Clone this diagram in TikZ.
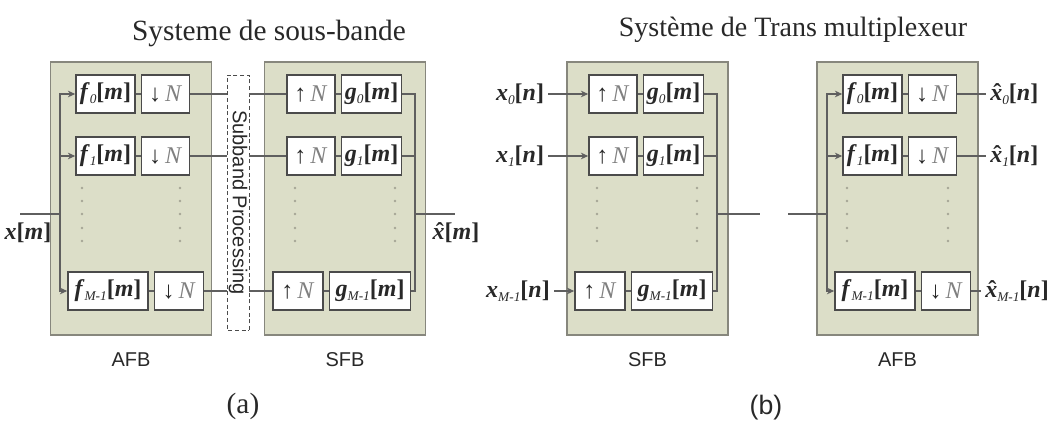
\documentclass[tikz,border=0pt]{standalone}
\usepackage{fontspec}
\setmainfont{Liberation Serif}
\setsansfont{Liberation Sans}
\usetikzlibrary{arrows.meta,positioning}

\definecolor{bankfill}{RGB}{220,222,200}
\definecolor{bankline}{RGB}{135,135,125}
\definecolor{boxline}{RGB}{75,75,75}
\definecolor{wiregray}{RGB}{95,95,95}
\definecolor{dotgray}{RGB}{165,165,150}
\definecolor{textgray}{RGB}{40,40,40}

\newcommand{\subs}[1]{\raisebox{-0.35ex}{\fontsize{10}{10}\selectfont\textit{#1}}}
\newcommand{\sig}[3]{\textbf{\textit{#1}}\subs{#2}\textbf{[\textit{#3}]}}
\newcommand{\hatx}{\ooalign{\textbf{\textit{x}}\cr\hidewidth\kern0.1em\textbf{ˆ}\hidewidth\cr}}
\newcommand{\hsig}[2]{\hatx\subs{#1}\textbf{[\textit{#2}]}}
\newcommand{\downN}{\textbf{↓}\,\textcolor{gray}{\textit{N}}}
\newcommand{\upN}{\textbf{↑}\,\textcolor{gray}{\textit{N}}}

\begin{document}
\begin{tikzpicture}[x=0.75pt,y=-0.75pt,>={Stealth[length=5.5pt,width=5pt]},node distance=3.75pt,
  text=textgray,
  bank node/.style={draw=bankline,fill=bankfill,line width=1pt,minimum width=120.75pt,minimum height=204.75pt,inner sep=0pt},
  block node/.style={draw=boxline,fill=white,line width=1.2pt,minimum height=28.5pt,inner sep=0pt,font=\fontsize{18}{20}\selectfont},
  sig node/.style={inner sep=3pt,font=\fontsize{18}{20}\selectfont},
  bank label/.style={font=\sffamily\fontsize{15}{16}\selectfont},
  wire/.style={draw=wiregray,line width=0.9pt}]

  \useasboundingbox (0,0) rectangle (1058,423);

  % titles
  \node (ta) at (269,33) {\fontsize{22}{24}\selectfont Systeme de sous-bande};
  \node (tb) at (793,30) {\fontsize{21}{24}\selectfont Système de Trans multiplexeur};

  % filter banks
  \node[bank node] (afba) at (131,198.5) {};
  \node[bank node] (sfba) at (345,198.5) {};
  \node[bank node] (sfbb) at (647.5,198.5) {};
  \node[bank node] (afbb) at (897.5,198.5) {};

  \node[bank label] (la) at (131,360) {AFB};
  \node[bank label] (lb) at (345,360) {SFB};
  \node[bank label] (lc) at (647.5,360) {SFB};
  \node[bank label] (ld) at (897.5,360) {AFB};

  \node (capa) at (243,406) {\fontsize{22}{24}\selectfont (a)};
  \node (capb) at (766,408) {\sffamily\fontsize{20}{24}\selectfont (b)};

  \foreach \x in {82,180,295,395,597,697,847,948}
    \foreach \y in {188,201,214,228,241}
      \fill[dotgray] (\x,\y) circle (1.1pt);

  % (a) analysis bank
  \node[block node,minimum width=44.25pt] (fa0) at (105.5,94) {\sig{f}{0}{m}};
  \node[block node,minimum width=36pt,right=of fa0] (da0) {\downN};
  \node[block node,minimum width=44.25pt] (fa1) at (105.5,156) {\sig{f}{1}{m}};
  \node[block node,minimum width=36pt,right=of fa1] (da1) {\downN};
  \node[block node,minimum width=60pt] (faM) at (108,291) {\sig{f}{M-1}{m}};
  \node[block node,minimum width=36.75pt,right=of faM] (daM) {\downN};

  \node[draw=boxline,densely dashed,fill=white,rotate=-90,minimum width=191.25pt,
    minimum height=16.5pt,inner sep=0pt,font=\sffamily\fontsize{15}{16}\selectfont] (sub) at (238,202.5) {Subband Processing};

  % (a) synthesis bank
  \node[block node,minimum width=36pt] (ua0) at (311,94) {\upN};
  \node[block node,minimum width=45pt,right=of ua0] (ga0) {\sig{g}{0}{m}};
  \node[block node,minimum width=36pt] (ua1) at (311,156) {\upN};
  \node[block node,minimum width=45pt,right=of ua1] (ga1) {\sig{g}{1}{m}};
  \node[block node,minimum width=37.5pt] (uaM) at (298,291) {\upN};
  \node[block node,minimum width=60.75pt,right=of uaM] (gaM) {\sig{g}{M-1}{m}};

  \coordinate (xa) at (20,214);
  \coordinate (ja) at (60,214);
  \coordinate (ka) at (415,214);
  \coordinate (ya) at (455,214);
  \node[sig node] (xla) at (28,233) {\textbf{\textit{x}[\textit{m}]}};
  \node[sig node] (yla) at (456,233) {\hatx\textbf{[\textit{m}]}};

  \draw[wire] (xa) -- (ja);
  \draw[wire,->] (ja) |- (fa0);
  \draw[wire,->] (ja) |- (fa1);
  \draw[wire,->] (ja) |- (faM);
  \draw[wire] (fa0) -- (da0);
  \draw[wire] (fa1) -- (da1);
  \draw[wire] (faM) -- (daM);
  \draw[wire] (da0) -- (da0 -| sub.south);
  \draw[wire] (da1) -- (da1 -| sub.south);
  \draw[wire] (daM) -- (daM -| sub.south);
  \draw[wire] (ua0 -| sub.north) -- (ua0);
  \draw[wire] (ua1 -| sub.north) -- (ua1);
  \draw[wire] (uaM -| sub.north) -- (uaM);
  \draw[wire] (ua0) -- (ga0);
  \draw[wire] (ua1) -- (ga1);
  \draw[wire] (uaM) -- (gaM);
  \draw[wire] (ga0) -| (ka);
  \draw[wire] (ga1) -| (ka);
  \draw[wire] (gaM) -| (ka);
  \draw[wire] (ka) -- (ya);

  % (b) synthesis bank
  \node[block node,minimum width=36pt] (ub0) at (613,94) {\upN};
  \node[block node,minimum width=45pt,right=of ub0] (gb0) {\sig{g}{0}{m}};
  \node[block node,minimum width=36pt] (ub1) at (613,156) {\upN};
  \node[block node,minimum width=45pt,right=of ub1] (gb1) {\sig{g}{1}{m}};
  \node[block node,minimum width=37.5pt] (ubM) at (600,291) {\upN};
  \node[block node,minimum width=60.75pt,right=of ubM] (gbM) {\sig{g}{M-1}{m}};

  \node[sig node] (xb0) at (520,94) {\sig{x}{0}{n}};
  \node[sig node] (xb1) at (520,156) {\sig{x}{1}{n}};
  \node[sig node] (xbM) at (518,291) {\sig{x}{M-1}{n}};

  \coordinate (kb) at (717,214);
  \coordinate (mb) at (760,214);
  \coordinate (nb) at (788,214);
  \coordinate (jb) at (827,214);

  % (b) analysis bank
  \node[block node,minimum width=44.25pt] (fb0) at (872.5,94) {\sig{f}{0}{m}};
  \node[block node,minimum width=36pt,right=of fb0] (db0) {\downN};
  \node[block node,minimum width=44.25pt] (fb1) at (872.5,156) {\sig{f}{1}{m}};
  \node[block node,minimum width=36pt,right=of fb1] (db1) {\downN};
  \node[block node,minimum width=60pt] (fbM) at (875,291) {\sig{f}{M-1}{m}};
  \node[block node,minimum width=36.75pt,right=of fbM] (dbM) {\downN};

  \node[sig node,anchor=west] (yb0) at (986,94) {\hsig{0}{n}};
  \node[sig node,anchor=west] (yb1) at (986,156) {\hsig{1}{n}};
  \node[sig node,anchor=west] (ybM) at (981,291) {\hsig{M-1}{n}};

  \draw[wire,->] (xb0) -- (ub0);
  \draw[wire,->] (xb1) -- (ub1);
  \draw[wire,->] (xbM) -- (ubM);
  \draw[wire] (ub0) -- (gb0);
  \draw[wire] (ub1) -- (gb1);
  \draw[wire] (ubM) -- (gbM);
  \draw[wire] (gb0) -| (kb);
  \draw[wire] (gb1) -| (kb);
  \draw[wire] (gbM) -| (kb);
  \draw[wire] (kb) -- (mb);
  \draw[wire] (nb) -- (jb);
  \draw[wire,->] (jb) |- (fb0);
  \draw[wire,->] (jb) |- (fb1);
  \draw[wire,->] (jb) |- (fbM);
  \draw[wire] (fb0) -- (db0);
  \draw[wire] (fb1) -- (db1);
  \draw[wire] (fbM) -- (dbM);
  \draw[wire] (db0) -- (yb0);
  \draw[wire] (db1) -- (yb1);
  \draw[wire] (dbM) -- (ybM);

\end{tikzpicture}
\end{document}
